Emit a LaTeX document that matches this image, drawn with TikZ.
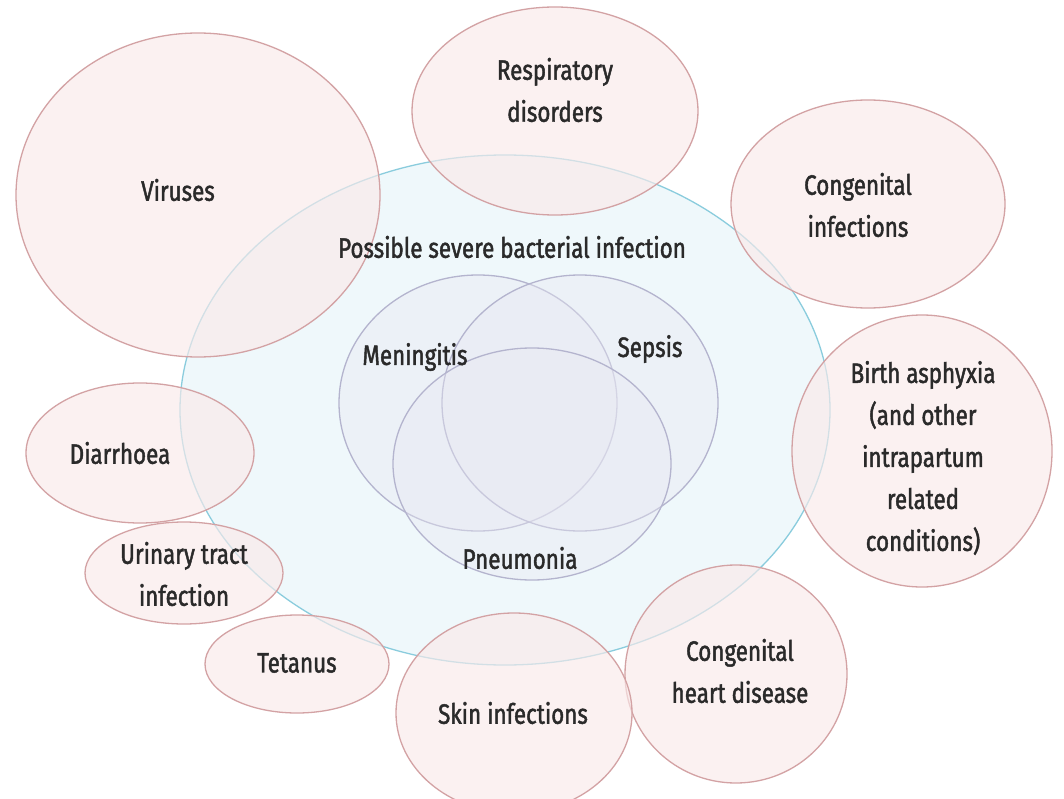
\documentclass[tikz,border=0pt]{standalone}
\usepackage{fontspec}
\setmainfont[FakeStretch=0.8,FakeBold=1.6]{Fira Sans}
\usetikzlibrary{shapes.geometric}
\definecolor{pinkfill}{HTML}{FAEAEA}
\definecolor{pinkline}{HTML}{D3A2A4}
\definecolor{bluefill}{HTML}{EFF8FB}
\definecolor{blueline}{HTML}{8ACCDD}
\definecolor{lavfill}{HTML}{E8E8F2}
\definecolor{lavline}{HTML}{B4B4CE}
\definecolor{txt}{HTML}{2A2A2A}
\tikzset{
  shp/.style={ellipse, inner sep=0pt, line width=1.3pt},
  outer/.style={shp, draw=pinkline, fill=pinkfill, fill opacity=0.65},
  psbi/.style={shp, draw=blueline, fill=bluefill},
  inner/.style={shp, draw=lavline, fill=lavfill, fill opacity=0.4},
  lbl/.style={text=txt, font=\fontsize{28}{42}\selectfont, align=center, inner sep=0pt}
}
\begin{document}
\begin{tikzpicture}[x=1pt,y=-1pt]
\useasboundingbox[fill=white] (0,0) rectangle (1064,799);
% main blue ellipse
\node[psbi, minimum width=650pt, minimum height=510pt] (psbiE) at (505,410) {};
% inner Venn
\node[inner, minimum width=278pt, minimum height=256pt] (menE) at (478,403) {};
\node[inner, minimum width=276pt, minimum height=256pt] (sepE) at (580,403) {};
\node[inner, minimum width=278pt, minimum height=232pt] (pneE) at (532,464) {};
% outer pink circles
\node[outer, minimum width=364pt, minimum height=324pt] (virE) at (198,195) {};
\node[outer, minimum width=286pt, minimum height=208pt] (resE) at (555,111) {};
\node[outer, minimum width=274pt, minimum height=208pt] (cinE) at (868,204) {};
\node[outer, minimum width=260pt, minimum height=272pt] (birE) at (922,451) {};
\node[outer, minimum width=222pt, minimum height=218pt] (chdE) at (736,674) {};
\node[outer, minimum width=236pt, minimum height=200pt] (skiE) at (514,713) {};
\node[outer, minimum width=184pt, minimum height=98pt] (tetE) at (297,664) {};
\node[outer, minimum width=198pt, minimum height=102pt] (utiE) at (184,573) {};
\node[outer, minimum width=228pt, minimum height=140pt] (diaE) at (140,453) {};
% labels
\node[lbl] (psbiL) at (512,247) {Possible severe bacterial infection};
\node[lbl] (menL) at (415,357) {Meningitis};
\node[lbl] (sepL) at (650,349) {Sepsis};
\node[lbl] (pneL) at (520,558) {Pneumonia};
\node[lbl] (virL) at (178,190) {Viruses};
\node[lbl] (resL) at (555,90) {Respiratory\\disorders};
\node[lbl] (cinL) at (858,205) {Congenital\\infections};
\node[lbl] (birL) at (923,458) {Birth asphyxia\\(and other\\intrapartum\\related\\conditions)};
\node[lbl] (chdL) at (740,671) {Congenital\\heart disease};
\node[lbl] (skiL) at (513,713) {Skin infections};
\node[lbl] (tetL) at (297,663) {Tetanus};
\node[lbl] (utiL) at (184,574) {Urinary tract\\infection};
\node[lbl] (diaL) at (120,453) {Diarrhoea};
\end{tikzpicture}
\end{document}
